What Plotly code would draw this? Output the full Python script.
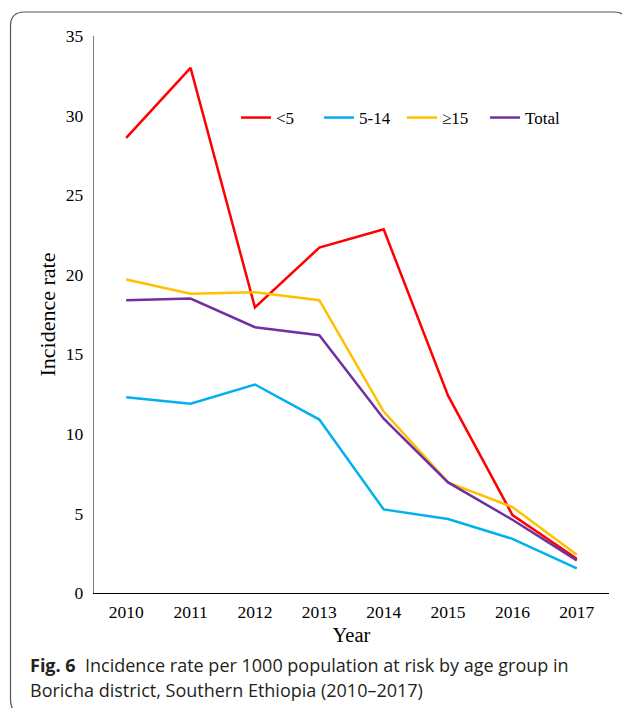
import plotly.graph_objects as go

years = ["2010", "2011", "2012", "2013", "2014", "2015", "2016", "2017"]
under5 = [28.6, 33.0, 17.95, 21.7, 22.85, 12.4, 4.9, 2.15]
age5_14 = [12.3, 11.9, 13.1, 10.9, 5.25, 4.65, 3.4, 1.55]
age15plus = [19.7, 18.8, 18.9, 18.4, 11.4, 6.95, 5.4, 2.4]
total = [18.4, 18.5, 16.7, 16.2, 10.95, 6.95, 4.6, 2.05]
series_names = ["<5", "5-14", "≥15", "Total"]
colors = ["#FF0000", "#00B0F0", "#FFC000", "#7030A0"]
y_ticks = [0, 5, 10, 15, 20, 25, 30, 35]

# page has an 8px body margin; figure coordinates = page coordinates - 8
OFF = 8
W, H = 622, 700
L, R, T, B = 94 - OFF, 609 - OFF, 36 - OFF, 593 - OFF


def px(x):  # page x -> paper
    return (x - OFF - L) / (R - L)


def py(y):  # page y -> paper
    return 1 - (y - OFF - T) / (B - T)


fig = go.Figure()
for name, vals, c in zip(series_names, [under5, age5_14, age15plus, total], colors):
    fig.add_trace(go.Scatter(x=years, y=vals, name=name, mode="lines",
                             line=dict(color=c, width=2.5)))

serif = "Liberation Serif, Times New Roman, serif"

fig.update_layout(
    width=W, height=H,
    margin=dict(l=L, r=W - R, t=T, b=H - B),
    paper_bgcolor="white", plot_bgcolor="white",
    font=dict(family=serif, size=17, color="#000"),
    showlegend=True,
    legend=dict(orientation="h", x=px(236), y=py(118), xanchor="left", yanchor="middle",
                font=dict(family=serif, size=17, color="#000"),
                bgcolor="rgba(0,0,0,0)", entrywidth=38, entrywidthmode="pixels"),
    xaxis=dict(type="category", range=[-0.5, 7.5], showgrid=False, zeroline=False, showline=True,
               linecolor="#000", linewidth=1.3, ticks="", ticklabelstandoff=3,
               tickfont=dict(family=serif, size=17.5),
               title=dict(text="Year", font=dict(family=serif, size=20.5), standoff=6)),
    yaxis=dict(range=[0, 35], tickvals=y_ticks, showgrid=False, zeroline=False, showline=True,
               linecolor="#808080", linewidth=1.3, ticks="", ticklabelstandoff=6,
               tickfont=dict(family=serif, size=17.5),
               title=dict(text="Incidence rate", font=dict(family=serif, size=22), standoff=4)),
)

# rounded border
x0, x1, y0, y1, r = px(10.5), px(628), py(12), py(714), 14
rx = r / (R - L)
ry = r / (B - T)
path = (f"M {x0 + rx},{y0} L {x1 - rx},{y0} Q {x1},{y0} {x1},{y0 - ry} "
        f"L {x1},{y1 + ry} Q {x1},{y1} {x1 - rx},{y1} L {x0 + rx},{y1} "
        f"Q {x0},{y1} {x0},{y1 + ry} L {x0},{y0 - ry} Q {x0},{y0} {x0 + rx},{y0} Z")
fig.add_shape(type="path", xref="paper", yref="paper", path=path,
              line=dict(color="#555", width=1.2), layer="below")

cap_font = dict(family="Open Sans, Noto Sans, sans-serif", size=18, color="#231F20")
fig.add_annotation(xref="paper", yref="paper", x=px(28), y=py(665), xanchor="left", yanchor="middle",
                   showarrow=False, align="left", font=cap_font,
                   text="<b>Fig. 6</b>  Incidence rate per 1000 population at risk by age group in")
fig.add_annotation(xref="paper", yref="paper", x=px(28), y=py(690), xanchor="left", yanchor="middle",
                   showarrow=False, align="left", font=cap_font,
                   text="Boricha district, Southern Ethiopia (2010–2017)")

fig.write_html("out.html")
